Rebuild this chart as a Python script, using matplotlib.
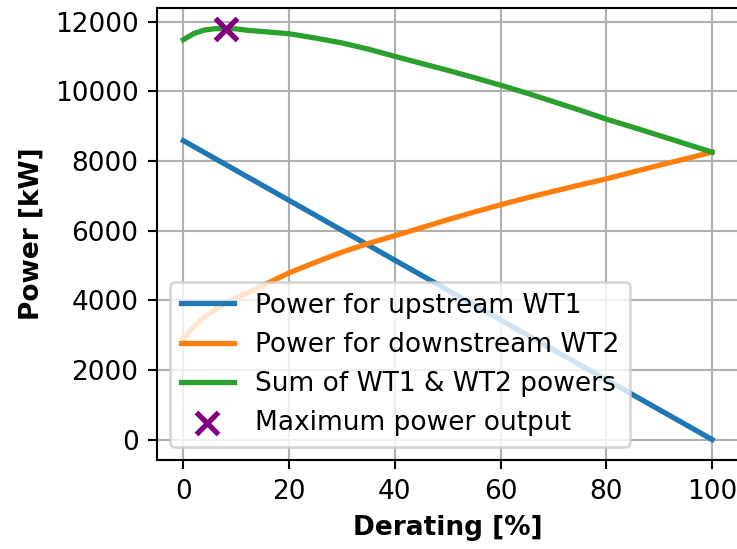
import numpy as np
import matplotlib
matplotlib.use("Agg")
import matplotlib.pyplot as plt

# Derating steps and powers
derating = [0, 2, 4, 6, 8, 10, 12, 15, 20, 25, 30, 35, 40, 45, 50,
            55, 60, 65, 70, 75, 80, 85, 90, 95, 100]
wt1_power = [8580, 8408, 8237, 8065, 7894, 7722, 7550, 7293, 6864, 6435,
             6006, 5577, 5148, 4719, 4290, 3861, 3432, 3003, 2574, 2145,
             1716, 1287, 858, 429, 0]
wt2_power = [2900, 3250, 3520, 3730, 3906, 4068, 4200, 4420, 4786, 5090,
             5380, 5630, 5852, 6080, 6310, 6530, 6740, 6940, 7126, 7310,
             7482, 7680, 7872, 8060, 8252]

total_power = np.array(wt1_power) + np.array(wt2_power)
iMax = int(np.argmax(total_power))

dpi = 190
fig = plt.figure(figsize=(737 / dpi, 549 / dpi), dpi=dpi)
# the right side of the axes runs off the picture, like in the reference
ax = fig.add_axes([0.213, 0.162, 0.789, 0.8235])

ax.plot(derating, wt1_power, lw=2, label="Power for upstream WT1")
ax.plot(derating, wt2_power, lw=2, label="Power for downstream WT2")
ax.plot(derating, total_power, lw=2, label="Sum of WT1 & WT2 powers")
ax.scatter(derating[iMax], total_power[iMax], marker="x", s=70, linewidths=2,
           color="purple", zorder=3, label="Maximum power output")

ax.set_xlabel("Derating [%]", fontweight="bold")
ax.set_ylabel("Power [kW]", fontweight="bold")
ax.set_xticks([0, 20, 40, 60, 80, 100])
ax.set_yticks([0, 2000, 4000, 6000, 8000, 10000, 12000])
ax.grid(True)
ax.legend(loc="lower left")

fig.savefig("out.png", dpi=dpi)
